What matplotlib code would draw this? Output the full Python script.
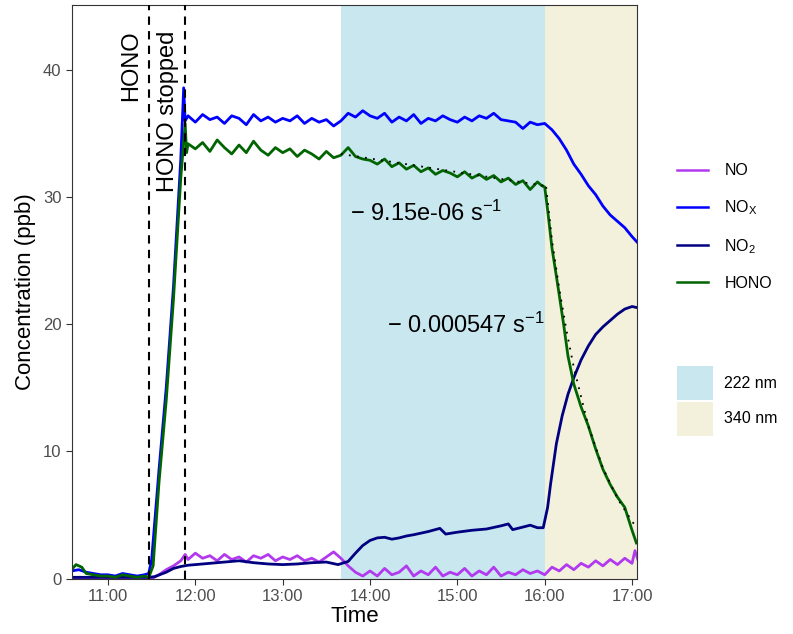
import pandas as pd
import matplotlib
matplotlib.use("Agg")
import matplotlib.pyplot as plt
from matplotlib.lines import Line2D
from matplotlib.patches import Patch

plt.rcParams["font.family"] = ["Liberation Sans", "DejaVu Sans"]
plt.rcParams["mathtext.fontset"] = "custom"
plt.rcParams["mathtext.rm"] = "Liberation Sans"
plt.rcParams["mathtext.it"] = "Liberation Sans:italic"

# === DATA ===
nox_t = ["10:35", "10:40", "10:45", "10:50", "10:55", "11:00", "11:05", "11:10", "11:15", "11:20",
         "11:25", "11:28", "11:30", "11:35", "11:40", "11:45", "11:50", "11:52", "11:53", "11:55",
         "12:00", "12:05", "12:10", "12:15", "12:20", "12:25", "12:30", "12:35", "12:40", "12:45",
         "12:50", "12:55", "13:00", "13:05", "13:10", "13:15", "13:20", "13:25", "13:30", "13:35",
         "13:40", "13:45", "13:50", "13:55", "14:00", "14:05", "14:10", "14:15", "14:20", "14:25",
         "14:30", "14:35", "14:40", "14:45", "14:50", "14:55", "15:00", "15:05", "15:10", "15:15",
         "15:20", "15:25", "15:30", "15:35", "15:40", "15:45", "15:50", "15:55", "16:00", "16:05",
         "16:10", "16:15", "16:20", "16:25", "16:30", "16:35", "16:40", "16:45", "16:50", "16:55",
         "17:00", "17:04"]
nox_v = [0.6, 0.7, 0.5, 0.4, 0.3, 0.3, 0.2, 0.4, 0.3, 0.2,
         0.3, 0.4, 1.5, 8.5, 15.0, 23.0, 33.0, 38.6, 36.0, 36.4,
         35.9, 36.5, 36.1, 36.3, 35.8, 36.4, 36.2, 35.7, 36.5, 36.0,
         36.3, 35.9, 36.2, 36.0, 36.4, 35.8, 36.2, 35.9, 36.1, 35.6,
         36.0, 36.6, 36.3, 36.8, 36.4, 36.2, 36.6, 35.9, 36.3, 36.0,
         36.5, 35.8, 36.2, 36.0, 36.4, 36.1, 35.9, 36.3, 36.0, 36.4,
         36.2, 36.6, 36.1, 36.0, 35.9, 35.4, 35.9, 35.7, 35.8, 35.3,
         34.6, 33.7, 32.6, 31.8, 30.9, 30.2, 29.3, 28.6, 28.1, 27.6,
         26.9, 26.4]

hono_t = ["10:35", "10:38", "10:42", "10:45", "10:50", "10:55", "11:00", "11:05", "11:10", "11:15",
          "11:20", "11:25", "11:28", "11:31", "11:35", "11:40", "11:45", "11:50", "11:53", "11:54",
          "11:55", "12:00", "12:05", "12:10", "12:15", "12:20", "12:25", "12:30", "12:35", "12:40",
          "12:45", "12:50", "12:55", "13:00", "13:05", "13:10", "13:15", "13:20", "13:25", "13:30",
          "13:35", "13:40", "13:45", "13:50", "13:55", "14:00", "14:05", "14:10", "14:15", "14:20",
          "14:25", "14:30", "14:35", "14:40", "14:45", "14:50", "14:55", "15:00", "15:05", "15:10",
          "15:15", "15:20", "15:25", "15:30", "15:35", "15:40", "15:45", "15:50", "15:55", "15:58",
          "16:00", "16:02", "16:05", "16:08", "16:10", "16:13", "16:16", "16:20", "16:25", "16:30",
          "16:35", "16:40", "16:45", "16:50", "16:55", "17:00", "17:03"]
hono_v = [0.7, 1.1, 0.9, 0.4, 0.3, 0.2, 0.2, 0.1, 0.3, 0.2,
          0.1, 0.2, 0.1, 1.0, 7.5, 14.0, 22.0, 31.5, 35.8, 33.5,
          34.2, 33.8, 34.3, 33.6, 34.5, 33.9, 33.4, 34.1, 33.5, 34.4,
          33.7, 33.3, 33.9, 33.5, 33.8, 33.2, 33.7, 33.4, 33.0, 33.6,
          33.1, 33.3, 33.9, 33.2, 33.0, 32.9, 32.6, 33.0, 32.4, 32.7,
          32.2, 32.5, 32.0, 32.3, 31.8, 32.1, 31.9, 31.6, 32.0, 31.5,
          31.8, 31.4, 31.7, 31.2, 31.5, 31.0, 31.3, 30.6, 31.2, 30.9,
          30.8, 29.0, 26.0, 23.8, 22.3, 20.0, 17.5, 15.3, 13.5, 12.0,
          10.2, 8.6, 7.4, 6.4, 5.6, 3.8, 2.8]

no2_t = ["10:35", "11:00", "11:28", "11:32", "11:40", "11:45", "11:50", "11:55", "12:00", "12:10",
         "12:20", "12:30", "12:40", "12:50", "13:00", "13:10", "13:20", "13:30", "13:38", "13:45",
         "13:50", "13:55", "14:00", "14:05", "14:10", "14:15", "14:20", "14:25", "14:30", "14:40",
         "14:48", "14:52", "15:00", "15:10", "15:20", "15:30", "15:35", "15:38", "15:45", "15:50",
         "15:55", "15:59", "16:02", "16:04", "16:08", "16:12", "16:16", "16:20", "16:25", "16:30",
         "16:35", "16:40", "16:45", "16:50", "16:55", "17:00", "17:04"]
no2_v = [0.1, 0.1, 0.1, 0.15, 0.5, 0.8, 0.95, 1.05, 1.1, 1.2,
         1.3, 1.4, 1.25, 1.15, 1.1, 1.15, 1.25, 1.3, 1.1, 1.35,
         2.0, 2.6, 3.0, 3.2, 3.25, 3.1, 3.2, 3.35, 3.45, 3.7,
         3.95, 3.5, 3.65, 3.8, 3.9, 4.15, 4.3, 3.85, 4.05, 4.2,
         4.0, 4.0, 5.6, 7.4, 10.6, 12.8, 14.5, 15.8, 17.2, 18.3,
         19.2, 19.8, 20.3, 20.8, 21.2, 21.4, 21.3]

no_t = ["10:35", "11:00", "11:30", "11:35", "11:40", "11:45", "11:50", "11:53", "11:55", "12:00",
        "12:05", "12:10", "12:15", "12:20", "12:25", "12:30", "12:35", "12:40", "12:45", "12:50",
        "12:55", "13:00", "13:05", "13:10", "13:15", "13:20", "13:25", "13:30", "13:35", "13:40",
        "13:45", "13:50", "13:55", "14:00", "14:05", "14:10", "14:15", "14:20", "14:25", "14:30",
        "14:35", "14:40", "14:45", "14:50", "14:55", "15:00", "15:05", "15:10", "15:15", "15:20",
        "15:25", "15:30", "15:35", "15:40", "15:45", "15:50", "15:55", "16:00", "16:05", "16:10",
        "16:15", "16:20", "16:25", "16:30", "16:35", "16:40", "16:45", "16:50", "16:55", "17:00",
        "17:02", "17:04"]
no_v = [0.0, 0.0, 0.0, 0.3, 0.7, 1.0, 1.4, 1.9, 1.5, 2.0,
        1.6, 1.8, 1.4, 1.9, 1.5, 1.7, 1.3, 1.8, 1.6, 1.9,
        1.4, 1.7, 1.5, 1.8, 1.4, 1.6, 1.3, 1.7, 2.1, 1.6,
        1.0, 0.5, 0.2, 0.6, 0.2, 0.8, 0.3, 0.5, 1.0, 0.2,
        0.6, 0.3, 0.9, 0.2, 0.5, 0.3, 0.8, 0.2, 0.6, 0.3,
        0.9, 0.2, 0.5, 0.3, 0.7, 0.4, 0.6, 0.3, 0.9, 0.6,
        1.1, 0.7, 1.2, 0.9, 1.4, 1.0, 1.5, 1.1, 1.6, 1.2,
        2.2, 1.5]

# fitted HONO decays (dotted lines)
fit222_t = ["13:40", "16:00"]
fit222_v = [33.4, 30.9]
fit340_t = ["16:01", "16:05", "16:10", "16:15", "16:20", "16:30", "16:40", "16:50", "17:00", "17:04"]
fit340_v = [30.8, 26.6, 22.8, 19.5, 16.6, 12.0, 8.7, 6.3, 4.5, 3.9]

period_222 = ["13:40", "16:00"]
period_340 = ["16:00", "17:05"]
events_t = ["11:28", "11:53"]
events_lab = ["HONO", "HONO stopped"]

ticks_t = ["11:00", "12:00", "13:00", "14:00", "15:00", "16:00", "17:00"]

series = [("NO", no_t, no_v, "#B23AEE"),
          ("NO$_\\mathregular{X}$", nox_t, nox_v, "#0000FF"),
          ("NO$_\\mathregular{2}$", no2_t, no2_v, "#000080"),
          ("HONO", hono_t, hono_v, "#006400")]


def hrs(lst):
    td = pd.to_timedelta([s + ":00" for s in lst])
    return (td.total_seconds() / 3600.0).to_numpy()


# === PLOT ===
fig = plt.figure(figsize=(7.93, 6.34), dpi=100)
ax = fig.add_axes([0.0908, 0.0868, 0.7125, 0.905])

c222, c340 = "#C9E7EF", "#F3F1DC"
p = hrs(period_222)
ax.axvspan(p[0], p[1], color=c222, lw=0, zorder=0)
p = hrs(period_340)
ax.axvspan(p[0], p[1], color=c340, lw=0, zorder=0)

for lab, t, v, col in series:
    ax.plot(hrs(t), v, color=col, lw=2.0, zorder=2)

ax.plot(hrs(fit222_t), fit222_v, color="black", lw=1.3, ls=(0, (1, 3.5)), zorder=3)
ax.plot(hrs(fit340_t), fit340_v, color="black", lw=1.3, ls=(0, (1, 3.5)), zorder=3)

for tx, lab in zip(hrs(events_t), events_lab):
    ax.axvline(tx, color="black", lw=1.5, ls=(0, (4, 3)), zorder=4)
    ax.text(tx - 0.2, 43.1, lab, rotation=90, ha="center", va="top", fontsize=17)

ax.text(14.64, 28.75, "\u2212 9.15e-06 s$^{\u22121}$", ha="center", va="center", fontsize=17)
ax.text(15.10, 19.95, "\u2212 0.000547 s$^{\u22121}$", ha="center", va="center", fontsize=17)

ax.set_xlim(10.588, 17.057)
ax.set_ylim(-0.03, 45.1)
ax.set_xticks(hrs(ticks_t))
ax.set_xticklabels(ticks_t)
ax.set_yticks([0, 10, 20, 30, 40])
ax.tick_params(colors="#333333", labelcolor="#4D4D4D", labelsize=12, length=4, width=0.8)
for s in ax.spines.values():
    s.set_color("#333333")
    s.set_linewidth(0.8)
ax.set_xlabel("Time", fontsize=16, labelpad=1)
ax.set_ylabel("Concentration (ppb)", fontsize=16, labelpad=5)

h1 = [Line2D([], [], color=col, lw=1.8) for _, _, _, col in series]
fig.legend(h1, [s[0] for s in series], loc="upper left", bbox_to_anchor=(0.835, 0.765),
           frameon=False, fontsize=11.5, handlelength=2.0, labelspacing=1.25,
           handletextpad=1.0)
h2 = [Patch(facecolor=c222, edgecolor="none"), Patch(facecolor=c340, edgecolor="none")]
fig.legend(h2, ["222 nm", "340 nm"], loc="upper left", bbox_to_anchor=(0.835, 0.445),
           frameon=False, fontsize=11.5, handlelength=2.3, handleheight=2.9,
           labelspacing=0.08, handletextpad=0.7)

fig.savefig("out.png", dpi=100)
